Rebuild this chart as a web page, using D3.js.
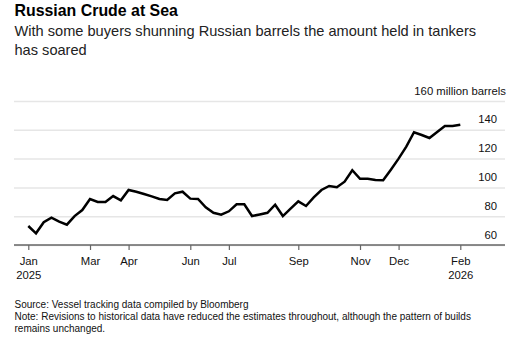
<!DOCTYPE html>
<html>
<head>
<meta charset="utf-8">
<script src="https://cdn.jsdelivr.net/npm/d3@7"></script>
<style>
  body { margin: 0; background: #fff; }
  svg text { font-family: "Liberation Sans", Arial, Helvetica, sans-serif; }
</style>
</head>
<body>
<svg id="chart" width="517" height="338"></svg>
<script>
// weekly readings (Sundays), million barrels held in tankers
var startWeek = "2025-01-05";
var barrels = [
  73.2, 68.1, 75.8, 79.0, 76.2, 74.1, 80.1, 84.3, 91.9, 89.9,
  89.9, 94.0, 91.0, 98.2, 97.0, 95.4, 93.8, 92.0, 91.3, 95.9,
  97.0, 92.2, 92.0, 86.2, 82.4, 81.0, 83.4, 88.3, 88.3, 80.1,
  81.2, 82.4, 88.0, 80.1, 85.2, 90.3, 87.1, 93.1, 98.2, 101.0,
  100.1, 104.0, 111.9, 106.0, 106.0, 105.1, 104.9, 112.3, 120.0, 128.3,
  138.3, 136.4, 134.3, 138.5, 142.6, 142.6, 143.5
];
var xTickDates = ["2025-01-05", "2025-03-02", "2025-04-06", "2025-06-01", "2025-07-06",
                  "2025-09-07", "2025-11-02", "2025-12-07", "2026-02-01"];
var xTickLabels = [["Jan", "2025"], ["Mar"], ["Apr"], ["Jun"], ["Jul"],
                   ["Sep"], ["Nov"], ["Dec"], ["Feb", "2026"]];
var yTicks = [60, 80, 100, 120, 140, 160];
var yUnit = "million barrels";

var parse = d3.utcParse("%Y-%m-%d");
var t0 = parse(startWeek);
var data = barrels.map(function (v, i) {
  return { date: d3.utcDay.offset(t0, i * 7), value: v };
});

var svg = d3.select("#chart");
var left = 14, right = 505;

svg.append("text").attr("x", 14.5).attr("y", 16)
  .attr("font-size", "15.9px").attr("font-weight", "bold").attr("fill", "#000")
  .text("Russian Crude at Sea");
var sub = svg.append("text").attr("x", 14.5).attr("y", 36)
  .attr("font-size", "14.6px").attr("fill", "#222");
sub.append("tspan").attr("x", 14.5).text("With some buyers shunning Russian barrels the amount held in tankers");
sub.append("tspan").attr("x", 14.5).attr("dy", 18.5).text("has soared");

var x = d3.scaleUtc()
  .domain([data[0].date, data[data.length - 1].date])
  .range([28.3, 460.3]);
var y = d3.scaleLinear().domain([60, 160]).range([245, 101]);

// gridlines + y labels
var yAxis = svg.append("g").attr("transform", "translate(" + right + ",0)")
  .call(d3.axisLeft(y).tickValues(yTicks).tickSize(right - left)
    .tickFormat(function (d) { return d === 160 ? d + " " + yUnit : d; }));
yAxis.select(".domain").remove();
yAxis.selectAll(".tick line").attr("stroke", "#e6e6e6").attr("stroke-width", 1.5);
yAxis.selectAll(".tick text")
  .attr("x", function (d) { return d === 160 ? 1 : -8; })
  .attr("dy", -7).attr("font-size", "11.3px").attr("fill", "#111")
  .attr("font-family", null);

// x axis
var xAxis = svg.append("g").attr("transform", "translate(0,245)")
  .call(d3.axisBottom(x).tickValues(xTickDates.map(parse)).tickSize(5).tickFormat(""));
xAxis.select(".domain").attr("d", "M" + left + ",0H" + right)
  .attr("stroke", "#666").attr("stroke-width", 1.5);
xAxis.selectAll(".tick line").attr("stroke", "#666").attr("stroke-width", 1.2);
xAxis.selectAll(".tick").each(function (d, i) {
  var t = d3.select(this).append("text").attr("text-anchor", "middle")
    .attr("y", 20).attr("font-size", "11.3px").attr("fill", "#111");
  xTickLabels[i].forEach(function (s, k) {
    t.append("tspan").attr("x", 0).attr("dy", k ? 14 : 0).text(s);
  });
});

// the line
var line = d3.line().x(function (d) { return x(d.date); })
  .y(function (d) { return y(d.value); });
svg.append("path").datum(data).attr("d", line)
  .attr("fill", "none").attr("stroke", "#000").attr("stroke-width", 2.5)
  .attr("stroke-linejoin", "miter");

// footer
var foot = svg.append("text").attr("font-size", "10px").attr("fill", "#111");
foot.append("tspan").attr("x", 14.5).attr("y", 308).text("Source: Vessel tracking data compiled by Bloomberg");
foot.append("tspan").attr("x", 14.5).attr("y", 320).text("Note: Revisions to historical data have reduced the estimates throughout, although the pattern of builds");
foot.append("tspan").attr("x", 14.5).attr("y", 331.5).text("remains unchanged.");
</script>
</body>
</html>
